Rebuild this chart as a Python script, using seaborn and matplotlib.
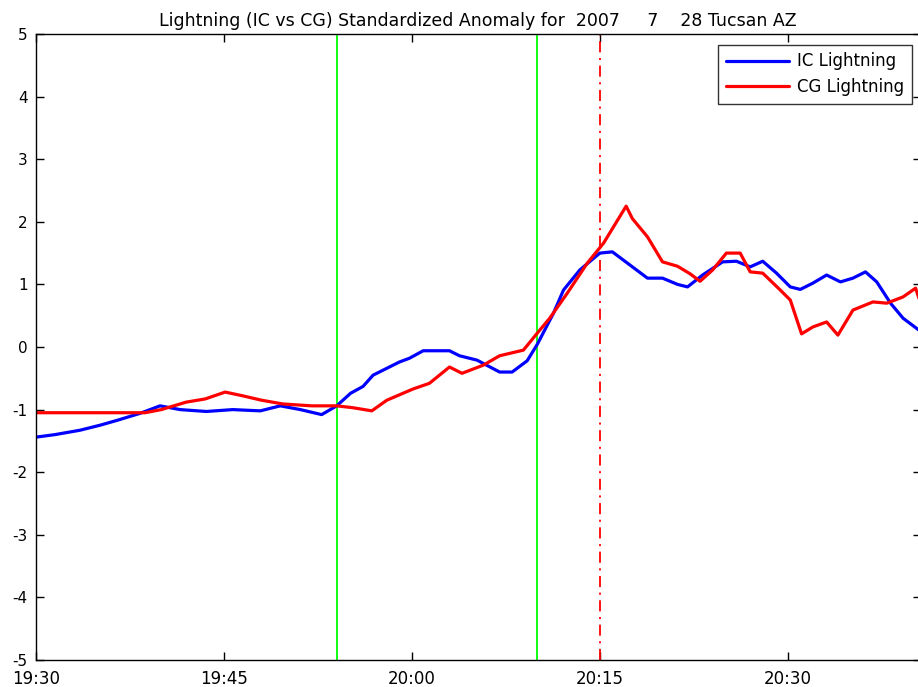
import matplotlib
matplotlib.use('Agg')
import matplotlib.pyplot as plt
import seaborn as sns

# minutes after 19:30
ic_min = [0, 1.5, 3.5, 5.1, 6.5, 8.3, 9.9, 11.5, 13.6, 15.7, 17.9, 19.5, 21.1, 22.8,
          24, 25.1, 26.1, 26.9, 29, 29.8, 30.9, 33, 33.8, 35.2, 37, 38, 39.2, 40,
          41.3, 42.1, 43.4, 45, 46, 47.2, 48.8, 50, 51.2, 52, 53.2, 54.8, 55.9, 57,
          58, 59.1, 60.2, 61, 62, 63.1, 64.2, 65.2, 66.2, 67.1, 68.2, 69.2, 70.6]
ic_val = [-1.44, -1.40, -1.33, -1.25, -1.17, -1.06, -0.94, -1.00, -1.03, -1.00, -1.02, -0.94, -1.00, -1.08,
          -0.94, -0.74, -0.63, -0.45, -0.24, -0.18, -0.06, -0.06, -0.14, -0.21, -0.40, -0.40, -0.22, 0.04,
          0.54, 0.91, 1.23, 1.50, 1.52, 1.34, 1.10, 1.10, 1.00, 0.96, 1.15, 1.36, 1.37, 1.28,
          1.37, 1.18, 0.96, 0.92, 1.02, 1.15, 1.04, 1.10, 1.20, 1.04, 0.70, 0.46, 0.25]

cg_min = [0, 8.7, 10, 12, 13.5, 15.1, 16.5, 18, 19.7, 22, 24, 25.3, 26.8, 28, 30.1,
          31.4, 33, 34, 35.7, 37, 38.9, 40, 41, 42.4, 44, 45.3, 47.1, 47.6, 48.8, 50,
          51.2, 52.2, 53, 54, 55.1, 56.2, 57, 58, 59.4, 60.2, 61.1, 62, 63.1, 64,
          65.2, 66.8, 67.9, 69.2, 70.2, 70.6]
cg_val = [-1.05, -1.05, -1.00, -0.88, -0.83, -0.72, -0.78, -0.85, -0.91, -0.94, -0.94, -0.97, -1.02, -0.85, -0.67,
          -0.58, -0.32, -0.42, -0.29, -0.14, -0.05, 0.22, 0.46, 0.86, 1.34, 1.66, 2.25, 2.05, 1.76, 1.36,
          1.29, 1.17, 1.05, 1.23, 1.50, 1.50, 1.20, 1.18, 0.91, 0.75, 0.21, 0.32, 0.40, 0.19,
          0.59, 0.72, 0.70, 0.80, 0.94, 0.70]

tick_min = [0, 15, 30, 45, 60]
tick_lab = ['19:30', '19:45', '20:00', '20:15', '20:30']
green_min = [24, 40]
red_min = 45

sns.set_style('ticks')
plt.rcParams['font.family'] = ['DejaVu Sans']
plt.rcParams['lines.scale_dashes'] = False
plt.rcParams['axes.unicode_minus'] = False
plt.rcParams['text.color'] = 'black'

fig = plt.figure(figsize=(9.18, 6.87), dpi=100)
ax = fig.add_axes([36 / 918, 27 / 687, 884.6 / 918, 626 / 687])

sns.lineplot(x=ic_min, y=ic_val, color='#0000ff', lw=2.3, sort=False, estimator=None,
             label='IC Lightning', ax=ax)
sns.lineplot(x=cg_min, y=cg_val, color='#ff0000', lw=2.3, sort=False, estimator=None,
             label='CG Lightning', ax=ax)

for g in green_min:
    ax.axvline(g, color='#00ff00', lw=1.3, zorder=1)
ax.axvline(red_min, color='#ff0000', lw=1.3, ls=(0, (8, 4, 1.5, 4)), zorder=1)

ax.set_xlim(0, 70.6)
ax.set_ylim(-5, 5)
ax.set_xticks(tick_min)
ax.set_xticklabels(tick_lab)
ax.set_yticks(range(-5, 6))
ax.tick_params(direction='in', length=6, width=1, top=True, right=True, colors='black')
ax.tick_params(axis='x', pad=7, labelsize=12)
ax.tick_params(axis='y', pad=6, labelsize=11)
for s in ax.spines.values():
    s.set_color('black')
    s.set_linewidth(1)

ax.set_title('Lightning (IC vs CG) Standardized Anomaly for  2007     7    28 Tucsan AZ',
             fontsize=12.5, pad=6, color='black')

leg = ax.legend(loc='upper right', bbox_to_anchor=(912 / 918, 1 - 45 / 687),
                bbox_transform=fig.transFigure, fontsize=12, frameon=True, fancybox=False,
                borderaxespad=0, handlelength=3.8, handletextpad=0.5,
                labelspacing=0.45, borderpad=0.45)
leg.get_frame().set_edgecolor('black')
leg.get_frame().set_linewidth(1)
for t in leg.get_texts():
    t.set_color('black')

fig.savefig('out.png', dpi=100)
